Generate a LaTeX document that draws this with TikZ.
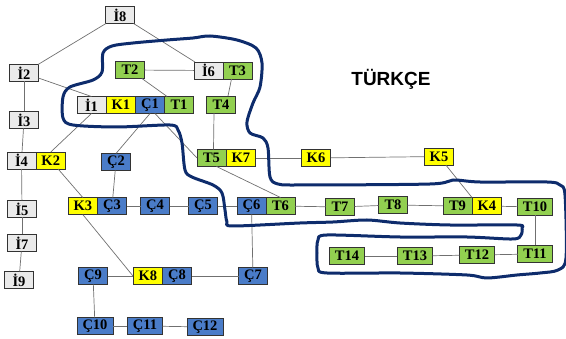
\documentclass[tikz,border=0pt]{standalone}
\usepackage{fontspec}
\setmainfont{Liberation Serif}
\newfontfamily\titlefont{Liberation Sans}
\usepackage{tikz}

\definecolor{igrey}{HTML}{EAEAEA}
\definecolor{kyellow}{HTML}{FFFF00}
\definecolor{cblue}{HTML}{4A7CC8}
\definecolor{tgreen}{HTML}{92D050}
\definecolor{loopblue}{HTML}{0E2C6C}
\definecolor{edgegrey}{HTML}{707070}

\begin{document}
\begin{tikzpicture}[x=1pt, y=-1pt,
  box/.style={draw=black!80, line width=0.7pt, minimum width=29pt, minimum height=17pt,
    inner xsep=5.5pt, inner ysep=0pt, outer sep=0pt, font=\fontsize{14.5}{14.5}\selectfont\bfseries},
  ibox/.style={box, fill=igrey},
  kbox/.style={box, fill=kyellow},
  cbox/.style={box, fill=cblue},
  tbox/.style={box, fill=tgreen},
  link/.style={draw=edgegrey, line width=0.7pt},
  loop/.style={draw=loopblue, line width=3pt, line join=round}]
\useasboundingbox (0,0) rectangle (566,339);

\node[ibox] (i8) at (120,15) {İ8};
\node[ibox] (i2) at (24,73) {İ2};
\node[ibox] (i3) at (24,120) {İ3};
\node[ibox, anchor=west] (i4) at (7,160.5) {İ4};
\node[kbox, anchor=west] (k2) at (i4.east) {K2};
\node[ibox] (i5) at (22,209) {İ5};
\node[ibox] (i7) at (22,243) {İ7};
\node[ibox] (i9) at (19,280) {İ9};

\node[ibox, anchor=west] (i1) at (77,105) {İ1};
\node[kbox, anchor=west] (k1) at (i1.east) {K1};
\node[cbox, anchor=west] (c1) at (k1.east) {Ç1};
\node[tbox, anchor=west] (t1) at (c1.east) {T1};
\node[tbox] (t2) at (130,70) {T2};
\node[ibox, anchor=west] (i6) at (194,70.5) {İ6};
\node[tbox, anchor=west] (t3) at (i6.east) {T3};
\node[tbox] (t4) at (221,104.5) {T4};
\node[tbox, anchor=west] (t5) at (197,158) {T5};
\node[kbox, anchor=west] (k7) at (t5.east) {K7};
\node[cbox] (c2) at (116,162) {Ç2};
\node[kbox] (k6) at (316,158) {K6};
\node[kbox] (k5) at (439,156.5) {K5};

\node[font=\titlefont\fontsize{19}{19}\selectfont\bfseries] (title) at (391,79) {TÜRKÇE};

\node[kbox, anchor=west] (k3) at (68,206) {K3};
\node[cbox, anchor=west] (c3) at (k3.east) {Ç3};
\node[cbox] (c4) at (155,206) {Ç4};
\node[cbox] (c5) at (203,206) {Ç5};
\node[cbox, anchor=west] (c6) at (237,206) {Ç6};
\node[tbox, anchor=west] (t6) at (c6.east) {T6};
\node[tbox] (t7) at (340,207) {T7};
\node[tbox] (t8) at (393,205) {T8};
\node[tbox, anchor=west] (t9) at (443,206) {T9};
\node[kbox, anchor=west] (k4) at (t9.east) {K4};
\node[tbox] (t10) at (535,207) {T10};
\node[tbox] (t11) at (535,254) {T11};
\node[tbox] (t12) at (477,255) {T12};
\node[tbox] (t13) at (415,256) {T13};
\node[tbox] (t14) at (347,256) {T14};

\node[cbox] (c9) at (93,276) {Ç9};
\node[kbox, anchor=west] (k8) at (133,276) {K8};
\node[cbox, anchor=west] (c8) at (k8.east) {Ç8};
\node[cbox] (c7) at (253,276) {Ç7};
\node[cbox] (c10) at (95,326) {Ç10};
\node[cbox] (c11) at (145,326) {Ç11};
\node[cbox] (c12) at (205,327) {Ç12};

\foreach \p/\q in {i8/i2, i8/i6, i2/i3, i3/i4, i4/i5, i5/i7, i7/i9, t2/i6, k7/k6, k6/k5,
  c2/c3, c3/c4, c4/c5, c5/c6, t6/t7, t7/t8, t8/t9, k4/t10, t10/t11, t11/t12, t12/t13,
  t13/t14, c6/c7, c7/c8, c9/k8, c9/c10, c10/c11, c11/c12, t2/t1}
{\draw[link] (\p) -- (\q);}
\draw[link] (i2) -- (i1.north);
\draw[link] (i1.south) -- (k2.north);
\draw[link] (k2) -- (k3.north);
\draw[link] (c1.south) -- (c2.north);
\draw[link] (c1.-60) -- (t5.west);
\draw[link] ([xshift=-6pt]t3.south) -- ([xshift=7pt]t4.north);
\draw[link] ([xshift=-7pt]t4.south) -- ([xshift=2pt]t5.north);
\draw[link] ([xshift=5pt]t5.south) -- (t6.north);
\draw[link] (k5) -- (k4.north west);
\draw[link] (k3.south) -- (k8.west);

% hand drawn border
\draw[loop] plot[smooth cycle, tension=0.5] coordinates {
  (103,53) (112,46) (133,43) (167,40) (193,38) (210,36) (237,40) (256,48)
  (262,63) (260,87) (253,103) (247,122) (250,133) (263,138) (268,148) (270,177)
  (278,184) (300,185) (430,184) (453,180) (480,182) (547,182) (560,185) (565,195)
  (566,258) (558,270) (540,273) (517,275) (487,278) (467,275) (400,273) (327,273)
  (318,268) (317,253) (318,240) (327,235) (400,237) (467,237) (513,239) (521,235)
  (522,228) (517,225) (450,225) (400,223) (367,220) (333,222) (300,223) (233,226)
  (227,222) (225,210) (222,193) (213,185) (192,177) (185,170) (182,143) (178,130)
  (170,125) (117,127) (73,125) (63,118) (63,97) (70,87) (93,80) (102,72)};

\end{tikzpicture}
\end{document}
